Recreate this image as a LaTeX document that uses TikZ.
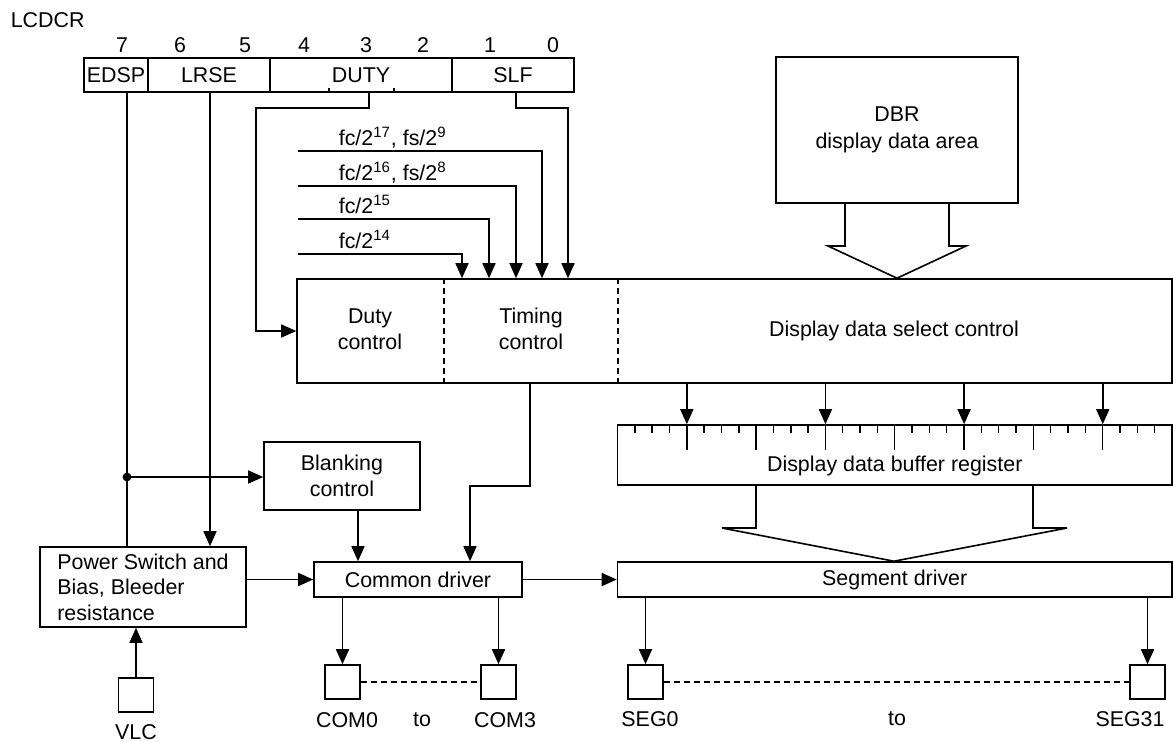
\documentclass[tikz,border=0pt]{standalone}
\usepackage{fontspec}
\setmainfont{Liberation Sans}
\usetikzlibrary{arrows.meta}

\begin{document}
\begin{tikzpicture}[x=0.5pt,y=-0.5pt,line width=0.8pt,>={Triangle[length=7.5pt,width=6.5pt]},
  font=\fontsize{10.7}{12.8}\selectfont,
  blk/.style={draw,inner sep=0pt,align=center},
  pad/.style={draw,inner sep=0pt,minimum width=17.5pt,minimum height=17pt},
  lbl/.style={inner sep=0pt}]
\useasboundingbox (0,0) rectangle (1173,741);
% 寄存器 LCDCR
\node[lbl,anchor=west] (lcdcr) at (10,20) {LCDCR};
\foreach \b/\x in {7/122,6/180,5/245,4/304,3/366,2/423,1/490,0/553}
  \node[lbl] (bit\b) at (\x,45) {\b};
\node[blk,minimum width=32pt,minimum height=17pt] (edsp) at (116,75) {EDSP};
\node[blk,minimum width=61pt,minimum height=17pt] (lrse) at (209,75) {LRSE};
\node[blk,minimum width=91pt,minimum height=17pt] (duty) at (361,75) {DUTY};
\node[blk,minimum width=61pt,minimum height=17pt] (slf) at (513,75) {SLF};
\draw (duty.south -| 329,0) -- ++(0,-5);
\draw (duty.south -| 394,0) -- ++(0,-5);
% 控制块与 DBR
\node[blk,minimum width=437.5pt,minimum height=52pt] (ctrl) at (734.5,331) {};
\draw[dash pattern=on 3pt off 2pt,line width=0.7pt] (ctrl.north -| 444,0) -- (ctrl.south -| 444,0);
\draw[dash pattern=on 3pt off 2pt,line width=0.7pt] (ctrl.north -| 618,0) -- (ctrl.south -| 618,0);
\node[lbl,align=center] (dutyc) at (370,329) {Duty\\control};
\node[lbl,align=center] (timc) at (531,329) {Timing\\control};
\node[lbl] (dsel) at (894,331) {Display data select control};
\node[blk,minimum width=121pt,minimum height=73pt] (dbr) at (897,130) {DBR\\[1pt]display data area};
\draw (dbr.south -| 845,0) -- (845,246) -- (828,246) -- (ctrl.north -| 897,0)
  -- (966,246) -- (949,246) -- (dbr.south -| 949,0);
% 分频时钟输入
\foreach \i/\y/\x/\t in {1/151/542/{fc/2\textsuperscript{17}, fs/2\textsuperscript{9}},
    2/186/516/{fc/2\textsuperscript{16}, fs/2\textsuperscript{8}},
    3/219/489/{fc/2\textsuperscript{15}},4/254/462/{fc/2\textsuperscript{14}}}{
  \coordinate (fc\i) at (298,\y);
  \node[lbl,anchor=base west] (fct\i) at (338,\y-6) {\t};
  \draw[->] (fc\i) -- (\x,\y) -- (ctrl.north -| \x,0);
}
\draw[->] (duty.south -| 369,0) -- (369,108) -- (256,108) -- (256,331) -- (ctrl.west);
\draw[->] (slf.south -| 516,0) -- (516,108) -- (568,108) -- (ctrl.north -| 568,0);
% 显示数据缓冲寄存器
\node[blk,minimum width=277.25pt,minimum height=30pt] (dbuf) at (894.75,455) {};
\node[lbl] (dbuft) at (894.75,466) {Display data buffer register};
\foreach \k in {1,...,31}{
  \pgfmathsetmacro\tl{mod(\k,4)==0 ? 25 : 8}
  \draw[line width=0.7pt] (617.5+\k*17.33,425) -- ++(0,\tl);
}
\foreach \k in {4,12,20,28}{
  \pgfmathsetmacro\xx{617.5+\k*17.33}
  \draw[->] (ctrl.south -| \xx,0) -- (dbuf.north -| \xx,0);
}
% 驱动器
\node[blk,minimum width=277.25pt,minimum height=17.5pt] (segdrv) at (894.75,579.5) {Segment driver};
\node[blk,minimum width=104pt,minimum height=17.5pt] (comdrv) at (418,579.5) {Common driver};
\node[blk,minimum width=78pt,minimum height=34pt] (blank) at (342,476) {Blanking\\control};
\node[blk,align=left,minimum width=103pt,minimum height=40pt] (power) at (143,587)
  {Power Switch and\\Bias, Bleeder\\resistance};
\draw (dbuf.south -| 756,0) -- (756,528) -- (722,528) -- (segdrv.north -| 894,0)
  -- (1067,528) -- (1033,528) -- (dbuf.south -| 1033,0);
% 控制连线
\draw (edsp.south -| 127,0) -- (power.north -| 127,0);
\coordinate (jn) at (127,477);
\fill (jn) circle (2.2pt);
\draw[->] (jn) -- (jn -| blank.west);
\draw[->] (lrse.south -| 210,0) -- (power.north -| 210,0);
\draw[->] (ctrl.south -| 530,0) -- (530,486) -- (470,486) -- (comdrv.north -| 470,0);
\draw[->] (blank.south -| 358,0) -- (comdrv.north -| 358,0);
\draw[->] (power.east |- comdrv.west) -- (comdrv.west);
\draw[->] (comdrv) -- (segdrv);
% 引脚
\node[pad] (vlc) at (136,695) {};
\node[pad] (com0) at (342.5,682) {};
\node[pad] (com3) at (498.5,682) {};
\node[pad] (seg0) at (645.5,682) {};
\node[pad] (seg31) at (1147.5,682) {};
\draw[->] (vlc.north) -- (vlc.north |- power.south);
\draw[->] (comdrv.south -| com0.north) -- (com0.north);
\draw[->] (comdrv.south -| com3.north) -- (com3.north);
\draw[->] (segdrv.south -| seg0.north) -- (seg0.north);
\draw[->] (segdrv.south -| seg31.north) -- (seg31.north);
\draw[dash pattern=on 3pt off 2pt] (com0) -- (com3);
\draw[dash pattern=on 3pt off 2pt] (seg0) -- (seg31);
\node[lbl] (vlct) at (136,732) {VLC};
\node[lbl] (com0t) at (347,720) {COM0};
\node[lbl] (comto) at (422,720) {to};
\node[lbl] (com3t) at (505,720) {COM3};
\node[lbl] (seg0t) at (650,719) {SEG0};
\node[lbl] (segto) at (897,719) {to};
\node[lbl] (seg31t) at (1130,719) {SEG31};
\end{tikzpicture}
\end{document}
